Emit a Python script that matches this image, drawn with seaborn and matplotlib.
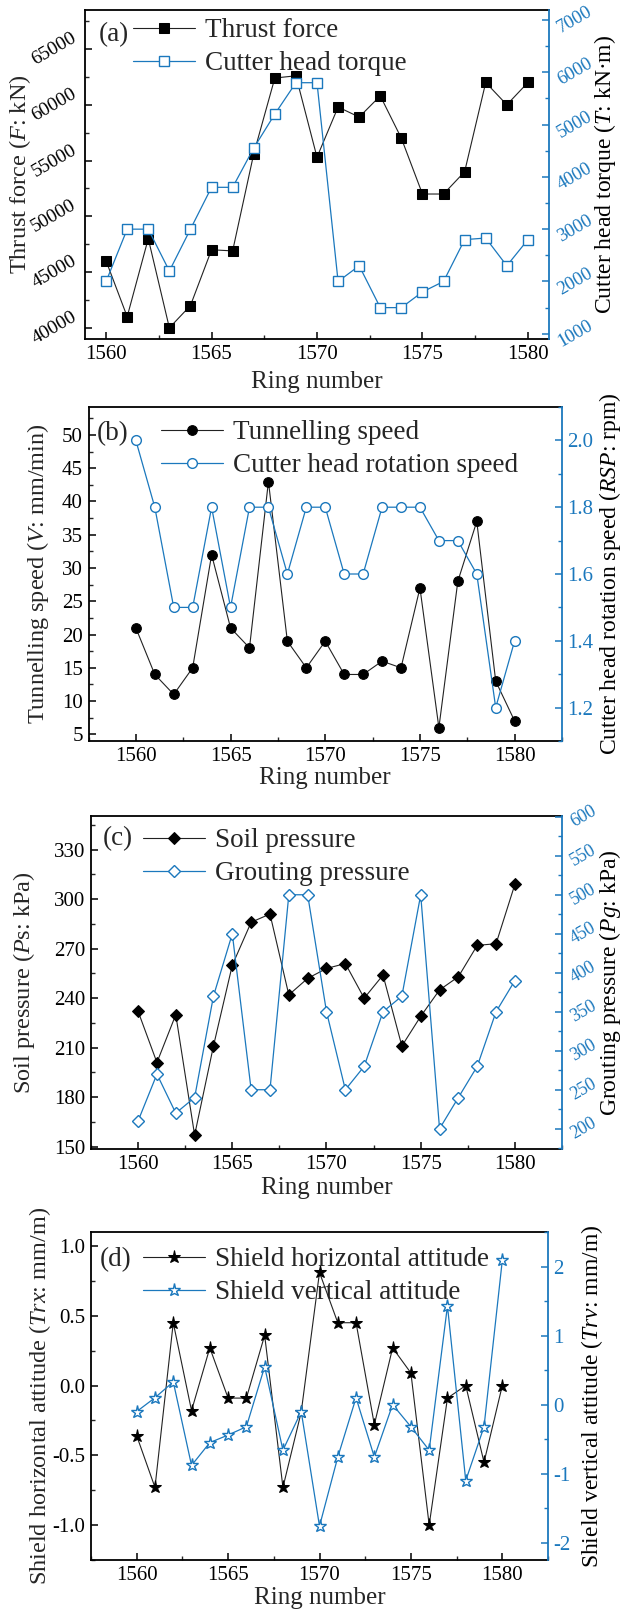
import numpy as np
import pandas as pd
import matplotlib
matplotlib.use('Agg')
import matplotlib.pyplot as plt
from matplotlib.ticker import MultipleLocator
import seaborn as sns

sns.set_theme(style='ticks')
plt.rcParams['font.family'] = ['Liberation Serif', 'DejaVu Serif']
plt.rcParams['mathtext.fontset'] = 'custom'
plt.rcParams['mathtext.rm'] = 'Liberation Serif'
plt.rcParams['mathtext.it'] = 'Liberation Serif:italic'
plt.rcParams['axes.unicode_minus'] = False

BLUE = '#1b78bd'
DARK = '#222222'

ring = list(range(1560, 1581))

# (a) thrust force (kN) and cutter head torque (kN.m)
thrust = [46000, 41000, 48000, 40000, 42000, 47000, 46900, 55600, 62400, 62600, 55300,
          59800, 58900, 60800, 57000, 52000, 52000, 54000, 62000, 60000, 62000]
torque = [2000, 3000, 3000, 2200, 3000, 3800, 3800, 4550, 5200, 5800, 5800,
          2000, 2300, 1500, 1500, 1800, 2000, 2800, 2830, 2300, 2800]

# (b) tunnelling speed (mm/min) and cutter head rotation speed (rpm)
speed = [21, 14, 11, 15, 32, 21, 18, 43, 19, 15, 19, 14, 14, 16, 15, 27, 6, 28, 37, 13, 7]
rsp = [2.0, 1.8, 1.5, 1.5, 1.8, 1.5, 1.8, 1.8, 1.6, 1.8, 1.8,
       1.6, 1.6, 1.8, 1.8, 1.8, 1.7, 1.7, 1.6, 1.2, 1.4]

# (c) soil pressure and grouting pressure (kPa)
soil = [232, 201, 230, 157, 211, 260, 286, 291, 242, 252, 258,
        261, 240, 254, 211, 229, 245, 253, 272, 273, 309]
grout = [210, 270, 220, 240, 370, 450, 250, 250, 500, 500, 350,
         250, 280, 350, 370, 500, 200, 240, 280, 350, 390]

# (d) shield attitudes (mm/m)
trx = [-0.36, -0.73, 0.45, -0.18, 0.27, -0.09, -0.09, 0.36, -0.73, -0.19, 0.81,
       0.45, 0.45, -0.28, 0.27, 0.09, -1.0, -0.09, 0.0, -0.55, 0.0]
trv = [-0.1, 0.1, 0.33, -0.88, -0.55, -0.44, -0.32, 0.55, -0.66, -0.1, -1.76,
       -0.76, 0.1, -0.76, 0.0, -0.32, -0.66, 1.43, -1.1, -0.32, 2.09]

fig = plt.figure(figsize=(6.22, 16.12), dpi=100)

# pixel layout: axes box, label centres, tag and legend positions
panels = [
    dict(pos=[85, 549, 10, 339], xlim=(1559, 1581), tag='(a)', tagxy=(99, 35),
         leg=(133, 18), ylx=(20, 605), xly=382, ys1=14, ys2=13.5,
         y1=thrust, y2=torque, m='s', ms=7,
         n1='Thrust force', n2='Cutter head torque',
         l1='Thrust force ($F$: kN)', l2='Cutter head torque ($T$: kN·m)',
         lim1=(39000, 68500), lim2=(900, 7190), maj1=5000, min1=2500, maj2=1000, min2=500,
         rot1=30, rot2=30),
    dict(pos=[88.5, 562, 407, 741], xlim=(1557.5, 1582.5), tag='(b)', tagxy=(97, 434),
         leg=(161, 420), ylx=(38, 610), xly=778, ys1=15, ys2=15,
         y1=speed, y2=rsp, m='o', ms=7,
         n1='Tunnelling speed', n2='Cutter head rotation speed',
         l1='Tunnelling speed ($V$: mm/min)', l2='Cutter head rotation speed ($RSP$: rpm)',
         lim1=(4, 54.2), lim2=(1.1, 2.1), maj1=5, min1=2.5, maj2=0.2, min2=0.1,
         rot1=0, rot2=0),
    dict(pos=[91, 562, 816, 1149], xlim=(1557.5, 1582.5), tag='(c)', tagxy=(103, 839),
         leg=(143, 828), ylx=(24, 610), xly=1188, ys1=15, ys2=13,
         y1=soil, y2=grout, m='D', ms=6.5,
         n1='Soil pressure', n2='Grouting pressure',
         l1='Soil pressure ($P$s: kPa)', l2='Grouting pressure ($Pg$: kPa)',
         lim1=(148.6, 350.4), lim2=(174, 601), maj1=30, min1=15, maj2=50, min2=25,
         rot1=0, rot2=30),
    dict(pos=[91, 548, 1232, 1560], xlim=(1557.5, 1582.5), tag='(d)', tagxy=(100, 1260),
         leg=(143, 1247), ylx=(40, 592), xly=1598, ys1=15, ys2=15,
         y1=trx, y2=trv, m='*', ms=9.5,
         n1='Shield horizontal attitude', n2='Shield vertical attitude',
         l1='Shield horizontal attitude ($Trx$: mm/m)', l2='Shield vertical attitude ($Trv$: mm/m)',
         lim1=(-1.25, 1.1), lim2=(-2.25, 2.5), maj1=0.5, min1=0.25, maj2=1, min2=0.5,
         rot1=0, rot2=0),
]

W, H = 622, 1612
for p in panels:
    l, r, t, b = p['pos']
    aw, ah = r - l, b - t
    ax = fig.add_axes([l / W, 1 - b / H, aw / W, ah / H])
    ax2 = ax.twinx()
    df = pd.DataFrame({'ring': ring, 'a': p['y1'], 'b': p['y2']})

    sns.lineplot(data=df, x='ring', y='a', ax=ax, color=DARK, lw=0.8, marker=p['m'],
                 markersize=p['ms'], markerfacecolor='black', markeredgecolor='black',
                 label=p['n1'], legend=False)
    sns.lineplot(data=df, x='ring', y='b', ax=ax2, color=BLUE, lw=0.9, marker=p['m'],
                 markersize=p['ms'], markerfacecolor='white', markeredgecolor=BLUE,
                 markeredgewidth=1.0, label=p['n2'], legend=False)

    ax.set_xlim(*p['xlim'])
    ax.set_ylim(*p['lim1'])
    ax2.set_ylim(*p['lim2'])
    ax.xaxis.set_major_locator(MultipleLocator(5))
    ax.xaxis.set_minor_locator(MultipleLocator(2.5))
    ax.yaxis.set_major_locator(MultipleLocator(p['maj1']))
    ax.yaxis.set_minor_locator(MultipleLocator(p['min1']))
    ax2.yaxis.set_major_locator(MultipleLocator(p['maj2']))
    ax2.yaxis.set_minor_locator(MultipleLocator(p['min2']))

    ax.set_xlabel('Ring number', fontsize=18)
    ax.set_ylabel(p['l1'], fontsize=17.5)
    ax2.set_ylabel(p['l2'], fontsize=17)
    ax.xaxis.set_label_coords(0.5, (b - p['xly']) / ah)
    ax.xaxis.label.set_va('center')
    ax.yaxis.set_label_coords((p['ylx'][0] - l) / aw, 0.5)
    ax.yaxis.label.set_va('center')
    ax2.yaxis.set_label_coords((p['ylx'][1] - l) / aw, 0.5)
    ax2.yaxis.label.set_va('center')

    for s in ['left', 'bottom', 'top']:
        ax.spines[s].set_linewidth(1.3)
        ax.spines[s].set_color('black')
    ax.spines['right'].set_visible(False)
    ax2.spines['right'].set_color(BLUE)
    ax2.spines['right'].set_linewidth(1.3)
    for s in ['left', 'bottom', 'top']:
        ax2.spines[s].set_visible(False)

    ax.tick_params(axis='both', which='major', direction='in', length=5, width=1.1,
                   pad=4, colors='black', top=False, right=False)
    ax.tick_params(axis='both', which='minor', direction='in', length=3, width=1.0,
                   top=False, right=False)
    ax.tick_params(axis='x', labelsize=15)
    ax.tick_params(axis='y', labelsize=p['ys1'])
    ax2.tick_params(axis='y', which='major', direction='in', length=5, width=1.1,
                    pad=4, labelsize=p['ys2'], colors=BLUE)
    ax2.tick_params(axis='y', which='minor', direction='in', length=3, width=1.0, colors=BLUE)
    ax2.yaxis.label.set_color('black')
    if p['rot1']:
        for lab in ax.get_yticklabels():
            lab.set_rotation(p['rot1'])
            lab.set_ha('right')
            lab.set_va('center')
    if p['rot2']:
        for lab in ax2.get_yticklabels():
            lab.set_rotation(p['rot2'])
            lab.set_ha('left')
            lab.set_va('center')

    fig.text(p['tagxy'][0] / W, 1 - p['tagxy'][1] / H, p['tag'], fontsize=19.5,
             va='center', ha='left')
    h1, lab1 = ax.get_legend_handles_labels()
    h2, lab2 = ax2.get_legend_handles_labels()
    ax2.legend(h1 + h2, lab1 + lab2, loc='upper left',
               bbox_to_anchor=((p['leg'][0] - l) / aw, (b - p['leg'][1]) / ah),
               frameon=False, fontsize=19.5, handlelength=2.3, handletextpad=0.35,
               labelspacing=0.3, borderaxespad=0, borderpad=0)

fig.savefig('out.png', dpi=100)
